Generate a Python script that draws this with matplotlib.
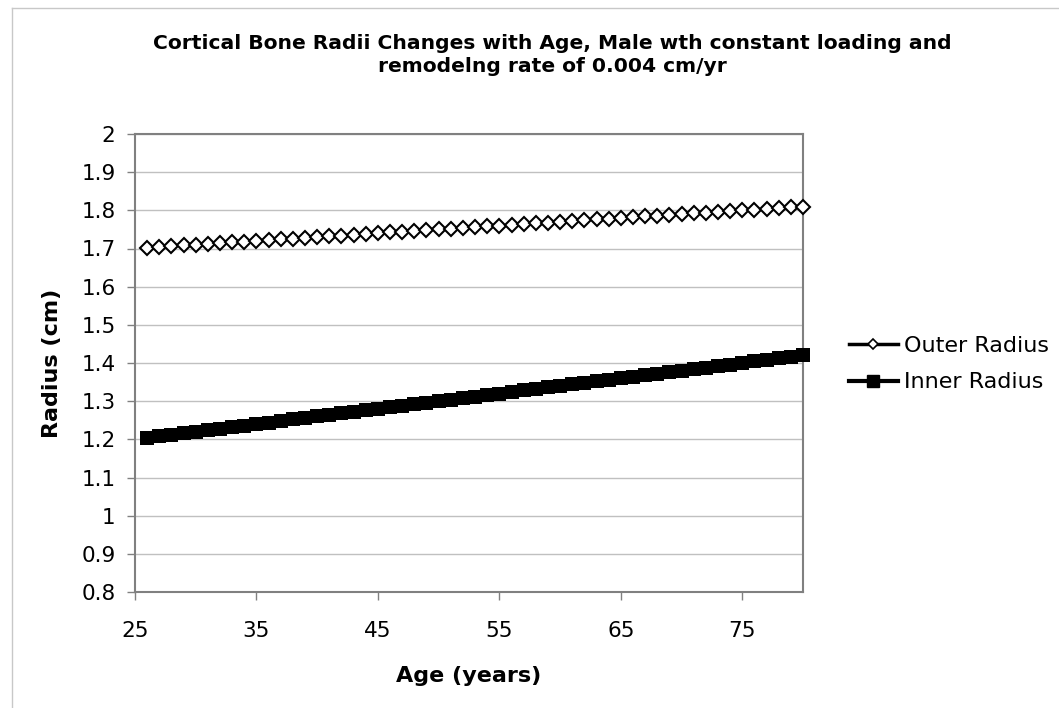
import matplotlib.pyplot as plt
from matplotlib.lines import Line2D

# ages 26..80, one point per year
age = list(range(26, 81))

outer_radius = [1.702, 1.704, 1.706, 1.708, 1.710, 1.712, 1.714, 1.716, 1.718, 1.720,
                1.722, 1.724, 1.726, 1.728, 1.730, 1.732, 1.734, 1.736, 1.738, 1.740,
                1.742, 1.744, 1.746, 1.748, 1.750, 1.752, 1.754, 1.756, 1.758, 1.760,
                1.762, 1.764, 1.766, 1.768, 1.770, 1.772, 1.774, 1.776, 1.778, 1.780,
                1.782, 1.784, 1.786, 1.788, 1.790, 1.792, 1.794, 1.796, 1.798, 1.800,
                1.802, 1.804, 1.806, 1.808, 1.810]

inner_radius = [1.204, 1.208, 1.212, 1.216, 1.220, 1.224, 1.228, 1.232, 1.236, 1.240,
                1.244, 1.248, 1.252, 1.256, 1.260, 1.264, 1.268, 1.272, 1.276, 1.280,
                1.284, 1.288, 1.292, 1.296, 1.300, 1.304, 1.308, 1.312, 1.316, 1.320,
                1.324, 1.328, 1.332, 1.336, 1.340, 1.344, 1.348, 1.352, 1.356, 1.360,
                1.364, 1.368, 1.372, 1.376, 1.380, 1.384, 1.388, 1.392, 1.396, 1.400,
                1.404, 1.408, 1.412, 1.416, 1.420]

x_ticks = [25, 35, 45, 55, 65, 75]
y_ticks = [0.8, 0.9, 1, 1.1, 1.2, 1.3, 1.4, 1.5, 1.6, 1.7, 1.8, 1.9, 2]

plt.rcParams['font.family'] = ['DejaVu Sans']

fig = plt.figure(figsize=(10.59, 7.08), dpi=100)
ax = fig.add_axes([135 / 1059, 1 - 592 / 708, (803 - 135) / 1059, (592 - 134) / 708])

# chart frame (only top and left edges visible in the original)
fig.add_artist(Line2D([12 / 1059, 1], [1 - 7.5 / 708, 1 - 7.5 / 708],
                      transform=fig.transFigure, color="#c8c8c8", lw=1))
fig.add_artist(Line2D([12 / 1059, 12 / 1059], [0, 1 - 7.5 / 708],
                      transform=fig.transFigure, color="#c8c8c8", lw=1))

ax.plot(age, outer_radius, color="black", lw=1.5, marker="D", markersize=6.8,
        markerfacecolor="white", markeredgecolor="black", markeredgewidth=1.5,
        clip_on=False, zorder=3)
ax.plot(age, inner_radius, color="black", lw=4, marker="s", markersize=9.5,
        markerfacecolor="black", markeredgecolor="black", markeredgewidth=0,
        clip_on=False, zorder=3)

ax.set_xlim(25, 80)
ax.set_ylim(0.8, 2)
ax.set_xticks(x_ticks)
ax.set_yticks(y_ticks)
ax.set_yticklabels([f"{v:g}" for v in y_ticks])
ax.grid(axis="y", color="#c0c0c0", lw=1)
ax.set_axisbelow(True)

for s in ax.spines.values():
    s.set_color("#808080")
    s.set_linewidth(1.5)
ax.tick_params(axis="both", colors="#808080", labelcolor="black", labelsize=15.5,
               length=6, width=1)
ax.tick_params(axis="x", pad=15)
ax.tick_params(axis="y", pad=8)

ax.set_xlabel("Age (years)", fontsize=16, fontweight="bold", labelpad=18)
ax.set_ylabel("Radius (cm)", fontsize=16, fontweight="bold", labelpad=14)

fig.text(552 / 1059, 1 - 55 / 708,
         "Cortical Bone Radii Changes with Age, Male wth constant loading and\nremodelng rate of 0.004 cm/yr",
         ha="center", va="center", fontsize=14.6, fontweight="bold", linespacing=1.3)

legend_handles = [
    Line2D([], [], color="black", lw=2.5, marker="D", markersize=5,
           markerfacecolor="white", markeredgecolor="black", markeredgewidth=1.2),
    Line2D([], [], color="black", lw=3, marker="s", markersize=9,
           markerfacecolor="black", markeredgecolor="black"),
]
fig.legend(legend_handles, ["Outer Radius", "Inner Radius"],
           loc="center left", bbox_to_anchor=(840 / 1059, 1 - 364 / 708),
           frameon=False, fontsize=16, handlelength=2.2, handletextpad=0.3,
           labelspacing=0.75, borderaxespad=0)

fig.savefig("out.png", dpi=100, facecolor="white")
